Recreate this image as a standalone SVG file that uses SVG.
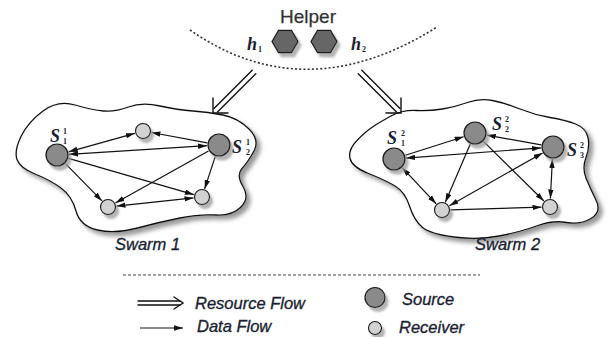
<svg xmlns="http://www.w3.org/2000/svg" width="614" height="337" viewBox="0 0 614 337">
  <defs>
    <style>
      .cloud { fill: #ffffff; stroke: #111111; stroke-width: 1.3; filter: url(#cloudShadow); }
      .src { fill: #8a8a8a; stroke: #1a1a1a; stroke-width: 1.2; filter: url(#nodeShadow); }
      .rcv { fill: #d2d2d2; stroke: #1a1a1a; stroke-width: 1.1; filter: url(#nodeShadow); }
      .hex { fill: #666666; stroke: #1a1a1a; stroke-width: 1.2; filter: url(#nodeShadow); }
      .flow { stroke: #111111; stroke-width: 1.2; fill: none; }
      .uni { marker-end: url(#ah); }
      .bi { marker-start: url(#ah); marker-end: url(#ah); }
      .res { stroke: #111111; stroke-width: 1.4; fill: none; stroke-linecap: round; }
      .lbl { font-family: "Liberation Sans", Arial, sans-serif; font-style: italic; font-size: 16.5px; fill: #1c1f33; stroke: #1c1f33; stroke-width: 0.35; }
      .sym { font-family: "Liberation Serif", "Times New Roman", serif; font-style: italic; font-weight: bold; font-size: 18px; fill: #1c1f33; }
      .idx { font-family: "Liberation Serif", "Times New Roman", serif; font-weight: bold; font-size: 8px; fill: #1c1f33; }
    </style>
    <filter id="cloudShadow" x="-10%" y="-10%" width="125%" height="130%">
      <feGaussianBlur in="SourceAlpha" stdDeviation="2"/>
      <feOffset dx="4" dy="4" result="b"/>
      <feFlood flood-color="#808080" flood-opacity="0.8"/>
      <feComposite in2="b" operator="in"/>
      <feMerge><feMergeNode/><feMergeNode in="SourceGraphic"/></feMerge>
    </filter>
    <filter id="nodeShadow" x="-40%" y="-40%" width="190%" height="190%">
      <feGaussianBlur in="SourceAlpha" stdDeviation="1.2"/>
      <feOffset dx="3" dy="4" result="b"/>
      <feFlood flood-color="#9a9a9a" flood-opacity="0.75"/>
      <feComposite in2="b" operator="in"/>
      <feMerge><feMergeNode/><feMergeNode in="SourceGraphic"/></feMerge>
    </filter>
    <marker id="ah" viewBox="0 0 10 6" refX="10" refY="3" markerWidth="9" markerHeight="5.5" markerUnits="userSpaceOnUse" orient="auto-start-reverse">
      <path d="M0,0 L10,3 L0,6 z" fill="#111111"/>
    </marker>
  </defs>

  <rect width="614" height="337" fill="#ffffff"/>

  <!-- helper area -->
  <g id="helper">
    <text x="308" y="23" text-anchor="middle" font-family="'Liberation Sans', Arial, sans-serif" font-size="19" fill="#333333" stroke="#333333" stroke-width="0.25">Helper</text>
    <path d="M190,30 Q305,110 437,27" fill="none" stroke="#333333" stroke-width="1.6" stroke-dasharray="2 2.2"/>
  </g>
  <g id="h1">
    <polygon class="hex" points="272,41.5 278.5,30.3 291.5,30.3 298,41.5 291.5,52.7 278.5,52.7"/>
    <text class="sym" x="247" y="50">h</text>
    <text class="idx" x="258" y="52">1</text>
  </g>
  <g id="h2">
    <polygon class="hex" points="311,41.5 317.5,30.3 330.5,30.3 337,41.5 330.5,52.7 317.5,52.7"/>
    <text class="sym" x="351" y="50">h</text>
    <text class="idx" x="362" y="52">2</text>
  </g>

  <!-- swarm outlines -->
  <g id="swarm1">
    <path class="cloud" d="M17,159.5 Q14,151 21,136.5 Q28,122 43,111 Q58,100 75,105 Q92,110 103.5,111 Q115,112 128.5,107 Q142,102 160,106 Q178,110 193,111 Q208,112 223,115 Q238,118 249,129 Q260,140 254,151 Q248,162 242,168.5 Q236,175 243,186.5 Q250,198 241,207 Q232,216 216,215 Q200,214 180,218 Q160,222 137.5,228 Q115,234 97.5,230 Q80,226 76,211 Q72,196 61,188 Q50,180 35,174 Q20,168 17,159.5 Z"/>
    <text class="lbl" x="115" y="250">Swarm 1</text>
  </g>
  <g id="swarm2">
    <path class="cloud" d="M416,110.5 Q402,110 391,116 Q380,122 372.5,127 Q365,132 356.5,141 Q348,150 350,158.5 Q352,167 368.5,173.5 Q385,180 395,186 Q405,192 409.5,206 Q414,220 422,227 Q430,234 454,237 Q478,240 499,236 Q520,232 536.5,226 Q553,220 566.5,222.5 Q580,225 591,218.5 Q602,212 596,200 Q590,188 586,178 Q582,168 586,157.5 Q590,147 588,137.5 Q586,128 575.5,124 Q565,120 550,117.5 Q535,115 520,109 Q505,103 492.5,100.5 Q480,98 467.5,102.5 Q455,107 442.5,109 Q430,111 416,110.5 Z"/>
    <text class="lbl" x="475" y="250">Swarm 2</text>
  </g>

  <!-- connectors -->
  <g id="connectors">
    <!-- resource flow from the helpers -->
    <path class="res" d="M255.8,73.8 L217.5,112.1 M252.2,70.2 L214,108.4"/>
    <path class="res" d="M213,98 L213,113 L228,113"/>
    <path class="res" d="M358.2,73.8 L396.5,112.1 M361.8,70.2 L400,108.4"/>
    <path class="res" d="M401,98 L401,113 L386,113"/>
    <!-- swarm 1 data flow -->
    <line class="flow bi" x1="68.6" y1="151.8" x2="134.8" y2="133.3"/>
    <line class="flow uni" x1="207.2" y1="142.8" x2="151.4" y2="132.5"/>
    <line class="flow bi" x1="69" y1="154.3" x2="207" y2="145.7"/>
    <line class="flow uni" x1="65.4" y1="163.6" x2="102" y2="200.9"/>
    <line class="flow uni" x1="68.5" y1="158.3" x2="193.8" y2="194.6"/>
    <line class="flow uni" x1="208.5" y1="150.9" x2="115.4" y2="202.9"/>
    <line class="flow uni" x1="215.3" y1="156.4" x2="204.6" y2="188.9"/>
    <line class="flow bi" x1="116.5" y1="206.1" x2="193.5" y2="197.9"/>
    <!-- swarm 2 data flow -->
    <line class="flow uni" x1="405.4" y1="155.3" x2="463.6" y2="136.7"/>
    <line class="flow uni" x1="541.2" y1="144.9" x2="486.8" y2="135.1"/>
    <line class="flow bi" x1="406" y1="158.1" x2="541" y2="147.9"/>
    <line class="flow bi" x1="402.2" y1="167.7" x2="436.2" y2="203.8"/>
    <line class="flow uni" x1="470.3" y1="144" x2="445.3" y2="202.2"/>
    <line class="flow uni" x1="483.5" y1="141.4" x2="543.9" y2="201"/>
    <line class="flow bi" x1="542.6" y1="152.9" x2="449.4" y2="205.8"/>
    <line class="flow bi" x1="552.4" y1="159" x2="550.4" y2="198.5"/>
    <line class="flow uni" x1="450.5" y1="209.8" x2="541.5" y2="207.2"/>
  </g>

  <!-- swarm 1 peers -->
  <g id="s1-1">
    <circle class="src" cx="57" cy="155" r="11"/>
    <text class="sym" x="50" y="142">S</text>
    <text class="idx" x="63" y="134">1</text>
    <text class="idx" x="63" y="144">1</text>
  </g>
  <g id="s1-2">
    <circle class="src" cx="219" cy="145" r="11"/>
    <text class="sym" x="232" y="153">S</text>
    <text class="idx" x="246" y="145">1</text>
    <text class="idx" x="246" y="155">2</text>
  </g>
  <g id="r1-top"><circle class="rcv" cx="143" cy="131" r="7.5"/></g>
  <g id="r1-left"><circle class="rcv" cx="108" cy="207" r="7.5"/></g>
  <g id="r1-right"><circle class="rcv" cx="202" cy="197" r="7.5"/></g>

  <!-- swarm 2 peers -->
  <g id="s2-1">
    <circle class="src" cx="394" cy="159" r="11"/>
    <text class="sym" x="387" y="144">S</text>
    <text class="idx" x="401" y="136">2</text>
    <text class="idx" x="401" y="146">1</text>
  </g>
  <g id="s2-2">
    <circle class="src" cx="475" cy="133" r="11"/>
    <text class="sym" x="492" y="130">S</text>
    <text class="idx" x="505" y="122">2</text>
    <text class="idx" x="505" y="132">2</text>
  </g>
  <g id="s2-3">
    <circle class="src" cx="553" cy="147" r="11"/>
    <text class="sym" x="567" y="156">S</text>
    <text class="idx" x="580" y="148">2</text>
    <text class="idx" x="580" y="158">3</text>
  </g>
  <g id="r2-left"><circle class="rcv" cx="442" cy="210" r="7.5"/></g>
  <g id="r2-right"><circle class="rcv" cx="550" cy="207" r="7.5"/></g>

  <!-- legend -->
  <g id="legend">
    <line x1="123" y1="275" x2="480" y2="275" stroke="#444444" stroke-width="1" stroke-dasharray="3 2"/>
    <path class="res" d="M138,301 L180,301 M138,305 L180,305"/>
    <path class="res" d="M174,297 L183,303 L174,309"/>
    <text class="lbl" x="195" y="309">Resource Flow</text>
    <line class="flow uni" x1="140" y1="328" x2="183" y2="328"/>
    <text class="lbl" x="197" y="332">Data Flow</text>
    <circle class="src" cx="375" cy="297.5" r="10"/>
    <text class="lbl" x="402" y="305">Source</text>
    <circle class="rcv" cx="375" cy="328" r="6.5"/>
    <text class="lbl" x="399" y="333">Receiver</text>
  </g>
</svg>
